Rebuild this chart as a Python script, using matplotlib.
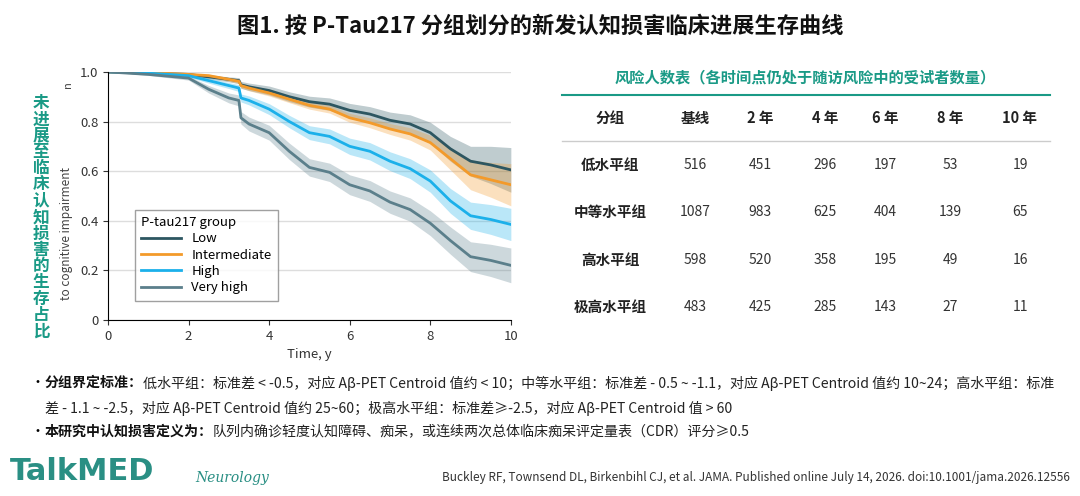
import matplotlib
matplotlib.use("Agg")
import matplotlib.pyplot as plt
import numpy as np

plt.rcParams['font.family'] = ['Noto Sans CJK SC', 'DejaVu Sans']

# survival curves
t = [0, 1, 2, 2.5, 3, 3.25, 3.3, 3.5, 4, 4.5, 5, 5.5, 6, 6.5, 7, 7.5, 8, 8.5, 9, 9.5, 10]
low = [1, 0.995, 0.99, 0.98, 0.97, 0.965, 0.948, 0.94, 0.925, 0.9, 0.88, 0.87, 0.845, 0.83, 0.805, 0.79, 0.755, 0.69, 0.64, 0.625, 0.605]
low_ci = [0, 0.003, 0.005, 0.008, 0.01, 0.012, 0.014, 0.015, 0.018, 0.02, 0.022, 0.025, 0.028, 0.03, 0.033, 0.037, 0.042, 0.05, 0.06, 0.075, 0.09]
inter = [1, 0.997, 0.99, 0.985, 0.97, 0.962, 0.945, 0.935, 0.915, 0.89, 0.865, 0.85, 0.815, 0.795, 0.77, 0.75, 0.715, 0.65, 0.585, 0.565, 0.545]
inter_ci = [0, 0.002, 0.004, 0.006, 0.008, 0.009, 0.01, 0.011, 0.012, 0.014, 0.015, 0.016, 0.018, 0.02, 0.022, 0.025, 0.03, 0.045, 0.06, 0.07, 0.085]
high = [1, 0.995, 0.985, 0.965, 0.945, 0.935, 0.895, 0.885, 0.85, 0.8, 0.755, 0.74, 0.7, 0.68, 0.64, 0.61, 0.56, 0.48, 0.42, 0.405, 0.385]
high_ci = [0, 0.003, 0.006, 0.01, 0.012, 0.014, 0.016, 0.018, 0.022, 0.025, 0.028, 0.03, 0.033, 0.035, 0.038, 0.04, 0.045, 0.05, 0.055, 0.06, 0.065]
vhigh = [1, 0.99, 0.975, 0.93, 0.895, 0.885, 0.815, 0.79, 0.755, 0.68, 0.615, 0.595, 0.545, 0.52, 0.475, 0.445, 0.39, 0.32, 0.255, 0.24, 0.22]
vhigh_ci = [0, 0.004, 0.008, 0.015, 0.02, 0.022, 0.025, 0.028, 0.03, 0.033, 0.035, 0.037, 0.04, 0.042, 0.045, 0.047, 0.05, 0.055, 0.06, 0.065, 0.07]

series = [("Low", low, low_ci, "#2d5661"),
          ("Intermediate", inter, inter_ci, "#f39a2a"),
          ("High", high, high_ci, "#1bb0ea"),
          ("Very high", vhigh, vhigh_ci, "#5b7f8b")]

# risk table
cols = ["分组", "基线", "2 年", "4 年", "6 年", "8 年", "10 年"]
groups = ["低水平组", "中等水平组", "高水平组", "极高水平组"]
risk = [[516, 451, 296, 197, 53, 19],
        [1087, 983, 625, 404, 139, 65],
        [598, 520, 358, 195, 49, 16],
        [483, 425, 285, 143, 27, 11]]

ylabel_cn = "未进展至临床认知损害的生存占比"

green = "#1a9a86"
W, H = 1080, 496
def fx(x): return x / W
def fy(y): return 1 - y / H

fig = plt.figure(figsize=(10.8, 4.96), dpi=100)

fig.text(0.5, 0.948, "图1. 按 P-Tau217 分组划分的新发认知损害临床进展生存曲线",
         ha="center", va="center", fontsize=16, fontweight="bold", color="#111111")

ax = fig.add_axes([0.1, 0.355, 0.373, 0.5])
for name, y, ci, c in series:
    y = np.array(y); ci = np.array(ci)
    ax.fill_between(t, y - ci, y + ci, color=c, alpha=0.3, lw=0)
    ax.plot(t, y, color=c, lw=2, label=name)
ax.set_xlim(0, 10)
ax.set_ylim(0, 1.0)
ax.set_xticks([0, 2, 4, 6, 8, 10])
ax.set_yticks([0, 0.2, 0.4, 0.6, 0.8, 1.0])
ax.set_yticklabels(["0", "0.2", "0.4", "0.6", "0.8", "1.0"])
ax.yaxis.grid(True, color="#dddddd", lw=1)
ax.set_axisbelow(True)
for s in ["top", "right"]:
    ax.spines[s].set_visible(False)
ax.tick_params(labelsize=9.5, colors="#333333")
ax.set_xlabel("Time, y", fontsize=9.5, color="#333333")
leg = ax.legend(title="P-tau217 group", loc="lower left", bbox_to_anchor=(0.05, 0.05),
                fontsize=9.5, title_fontsize=9.5, fancybox=False, edgecolor="#888888",
                handlelength=3.0, labelspacing=0.25, borderpad=0.5)
leg._legend_box.align = "left"

fig.text(0.062, 0.53, "to cognitive impairment", rotation=90, ha="center", va="center",
         fontsize=8.5, color="#444444")
fig.text(0.063, 0.83, "n", rotation=90, ha="center", va="center", fontsize=8, color="#444444")
for i, ch in enumerate(ylabel_cn):
    fig.text(fx(41), fy(103 + i * 16.3), ch, ha="center", va="center",
             fontsize=12, fontweight="bold", color=green)

# risk table
fig.text(fx(805), fy(77), "风险人数表（各时间点仍处于随访风险中的受试者数量）",
         ha="center", va="center", fontsize=11, fontweight="bold", color=green)
fig.add_artist(plt.Line2D([fx(562), fx(1050)], [fy(95), fy(95)], color=green, lw=1.5))
fig.add_artist(plt.Line2D([fx(562), fx(1050)], [fy(141), fy(141)], color="#cccccc", lw=1))
col_x = [610, 695, 760, 825, 885, 950, 1020]
for cx, c in zip(col_x, cols):
    fig.text(fx(cx), fy(118), c, ha="center", va="center", fontsize=10.5, fontweight="bold", color="#222222")
row_y = [165, 212, 260, 307]
for ry, g, vals in zip(row_y, groups, risk):
    fig.text(fx(col_x[0]), fy(ry), g, ha="center", va="center", fontsize=10.5, fontweight="bold", color="#222222")
    for cx, v in zip(col_x[1:], vals):
        fig.text(fx(cx), fy(ry), str(v), ha="center", va="center", fontsize=10, color="#333333")

# footnotes
fs = 10.1
r = fig.canvas.get_renderer()
def bold_then_plain(y, bold, plain):
    b = fig.text(fx(45), fy(y), bold, va="center", fontsize=fs, fontweight="bold", color="#111111")
    w = b.get_window_extent(renderer=r).width
    fig.text(fx(45) + w / W, fy(y), plain, va="center", fontsize=fs, color="#222222")
fig.text(fx(30), fy(383), "•", va="center", fontsize=fs)
bold_then_plain(383, "分组界定标准：", "低水平组：标准差 < -0.5，对应 Aβ-PET Centroid 值约 < 10；中等水平组：标准差 - 0.5 ~ -1.1，对应 Aβ-PET Centroid 值约 10~24；高水平组：标准")
fig.text(fx(45), fy(408), "差 - 1.1 ~ -2.5，对应 Aβ-PET Centroid 值约 25~60；极高水平组：标准差≥-2.5，对应 Aβ-PET Centroid 值 > 60",
         va="center", fontsize=fs, color="#222222")
fig.text(fx(30), fy(432), "•", va="center", fontsize=fs)
bold_then_plain(432, "本研究中认知损害定义为：", "队列内确诊轻度认知障碍、痴呆，或连续两次总体临床痴呆评定量表（CDR）评分≥0.5")

fig.text(fx(10), fy(472), "TalkMED", va="center", fontsize=22, fontweight="bold", color="#2a8f84", family="DejaVu Sans")
fig.text(fx(195), fy(478), "Neurology", va="center", fontsize=10, style="italic", color="#2a8f84", family="DejaVu Serif")
fig.text(fx(1070), fy(478), "Buckley RF, Townsend DL, Birkenbihl CJ, et al. JAMA. Published online July 14, 2026. doi:10.1001/jama.2026.12556",
         ha="right", va="center", fontsize=8.5, color="#333333")

fig.savefig("out.png", dpi=100)
